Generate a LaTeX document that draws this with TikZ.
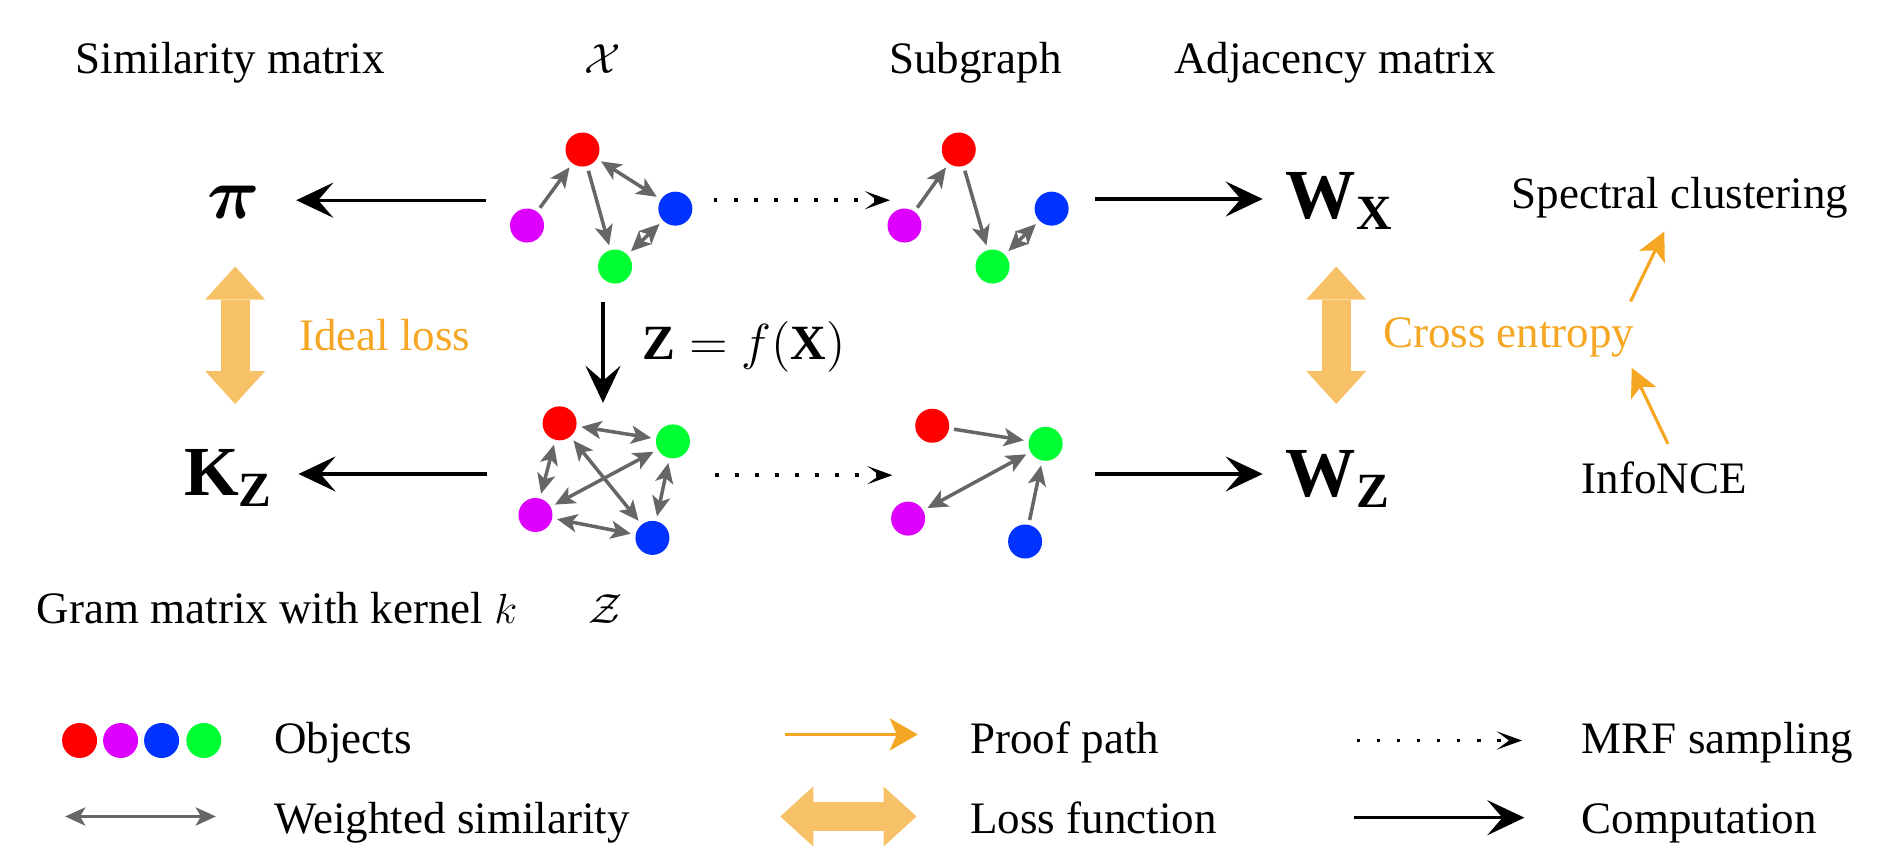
\documentclass[tikz,border=0pt]{standalone}
\usepackage{amsmath}
\usepackage{fontspec}
\setmainfont{Liberation Serif}
\usetikzlibrary{arrows.meta}
\definecolor{nred}{RGB}{255,0,0}
\definecolor{nmag}{RGB}{221,0,255}
\definecolor{nblue}{RGB}{0,51,255}
\definecolor{ngreen}{RGB}{0,255,51}
\definecolor{egray}{RGB}{102,102,102}
\definecolor{porange}{RGB}{245,166,35}
\definecolor{lorange}{RGB}{247,193,104}
\begin{document}
\begin{tikzpicture}[x=0.01206cm, y=-0.01206cm,
  font=\fontsize{12.8}{15}\selectfont,
  obj/.style={circle, inner sep=0pt, minimum size=3.4mm, outer sep=0.5mm},
  txt/.style={inner sep=0pt, anchor=base},
  txtw/.style={inner sep=0pt, anchor=base west},
  big/.style={inner sep=0pt, font=\fontsize{20}{24}\selectfont},
  gedge/.style={draw=egray, line width=1pt, -{Stealth[length=2mm,width=1.8mm,inset=0.5mm]}},
  gboth/.style={draw=egray, line width=1pt, {Stealth[length=2mm,width=1.8mm,inset=0.5mm]}-{Stealth[length=2mm,width=1.8mm,inset=0.5mm]}},
  comp/.style={draw=black, line width=0.95pt, -{Stealth[length=3.7mm,width=3.5mm,inset=1.5mm]}},
  mrf/.style={draw=black, line width=1.1pt, dash pattern=on 1pt off 4.7pt, -{Stealth[length=2.5mm,width=1.8mm,inset=1.2mm]}},
  proof/.style={draw=porange, line width=0.9pt, -{Stealth[length=2.8mm,width=2.8mm,inset=0.7mm]}},
  loss/.style={draw=lorange, line width=2.9mm, {Triangle[length=3.3mm,width=6mm,line width=0pt]}-{Triangle[length=3.3mm,width=6mm,line width=0pt]}}
]
\useasboundingbox (0,0) rectangle (1568,708);

% top labels
\node[txt] (simlab) at (191,61) {Similarity matrix};
\node[txt] (xlab) at (500,61) {$\mathcal{X}$};
\node[txt] (sublab) at (809,61) {Subgraph};
\node[txt] (adjlab) at (1107,61) {Adjacency matrix};

% graph X
\node[obj, fill=nred] (xr) at (483,124) {};
\node[obj, fill=nmag] (xm) at (437,187) {};
\node[obj, fill=nblue] (xb) at (560,173) {};
\node[obj, fill=ngreen] (xg) at (510,221) {};
\draw[gedge] (xm) -- (xr);
\draw[gedge] (xr) -- (xg);
\draw[gboth] (xr) -- (xb);
\draw[gboth] (xg) -- (xb);

% graph Z
\node[obj, fill=nred] (zr) at (464,351) {};
\node[obj, fill=ngreen] (zg) at (558,366) {};
\node[obj, fill=nmag] (zm) at (444,427) {};
\node[obj, fill=nblue] (zb) at (541,446) {};
\draw[gboth] (zr) -- (zg);
\draw[gboth] (zr) -- (zm);
\draw[gboth] (zr) -- (zb);
\draw[gboth] (zg) -- (zm);
\draw[gboth] (zg) -- (zb);
\draw[gboth] (zm) -- (zb);

% subgraph X
\node[obj, fill=nred] (sxr) at (795,124) {};
\node[obj, fill=nmag] (sxm) at (750,187) {};
\node[obj, fill=nblue] (sxb) at (872,173) {};
\node[obj, fill=ngreen] (sxg) at (823,221) {};
\draw[gedge] (sxm) -- (sxr);
\draw[gedge] (sxr) -- (sxg);
\draw[gboth] (sxg) -- (sxb);

% subgraph Z
\node[obj, fill=nred] (szr) at (773,353) {};
\node[obj, fill=ngreen] (szg) at (867,368) {};
\node[obj, fill=nmag] (szm) at (753,430) {};
\node[obj, fill=nblue] (szb) at (850,449) {};
\draw[gedge] (szr) -- (szg);
\draw[gboth] (szm) -- (szg);
\draw[gedge] (szb) -- (szg);

% matrices
\node[inner sep=0pt, outer sep=3.6mm, font=\fontsize{22}{26}\selectfont] (pi) at (194,168) {$\boldsymbol{\pi}$};
\node[big, anchor=base west, outer sep=2.5mm] (kz) at (132,411) {$\mathbf{K}_{\mathbf{Z}}$};
\node[big, anchor=base west, outer sep=2.3mm] (wx) at (1047,181) {$\mathbf{W}_{\mathbf{X}}$};
\node[big, anchor=base west, outer sep=2.3mm] (wz) at (1047,412) {$\mathbf{W}_{\mathbf{Z}}$};

% computation arrows
\coordinate (xL) at (403,166);
\coordinate (zL) at (404,393);
\coordinate (sxR) at (908,165);
\coordinate (szR) at (908,393);
\draw[comp] (xL) -- (xL -| pi.east);
\draw[comp] (zL) -- (zL -| kz.east);
\draw[comp] (sxR) -- (sxR -| wx.west);
\draw[comp] (szR) -- (szR -| wz.west);
\coordinate (dT) at (500,250);
\coordinate (dB) at (500,334);
\draw[comp] (dT) -- (dB);
\node[txtw, font=\fontsize{14}{17}\selectfont] (fx) at (532,298) {$\mathbf{Z}=f(\mathbf{X})$};

% MRF sampling
\coordinate (mx1) at (592,166);
\coordinate (mx2) at (738,166);
\coordinate (mz1) at (593,394);
\coordinate (mz2) at (740,394);
\draw[mrf] (mx1) -- (mx2);
\draw[mrf] (mz1) -- (mz2);

% losses
\coordinate (lt) at (195,221);
\coordinate (lb) at (195,335);
\coordinate (rt) at (1108,221);
\coordinate (rb) at (1108,335);
\draw[loss] (lt) -- (lb);
\draw[loss] (rt) -- (rb);
\node[txt, text=porange] (ideal) at (319,291) {Ideal loss};
\node[txt, text=porange] (ce) at (1251,288) {Cross entropy};

% proof paths
\node[txt] (spec) at (1393,173) {Spectral clustering};
\node[txt] (info) at (1380,409) {InfoNCE};
\coordinate (p1a) at (1352,250);
\coordinate (p1b) at (1380,192);
\coordinate (p2a) at (1383,368);
\coordinate (p2b) at (1353,305);
\draw[proof] (p1a) -- (p1b);
\draw[proof] (p2a) -- (p2b);

% bottom labels
\node[txtw] (gram) at (30,517) {Gram matrix with kernel $k$};
\node[txt] (zlab) at (502,517) {$\mathcal{Z}$};

% legend
\node[obj, fill=nred, outer sep=0pt, minimum size=3.5mm] (l1) at (66,614) {};
\node[obj, fill=nmag, outer sep=0pt, minimum size=3.5mm] (l2) at (100,614) {};
\node[obj, fill=nblue, outer sep=0pt, minimum size=3.5mm] (l3) at (134,614) {};
\node[obj, fill=ngreen, outer sep=0pt, minimum size=3.5mm] (l4) at (169,614) {};
\node[txtw] (lobj) at (227,625) {Objects};

\coordinate (w1) at (54,677);
\coordinate (w2) at (179,677);
\draw[draw=egray, line width=1.1pt, {Stealth[length=2mm,width=1.8mm,inset=0.5mm]}-{Stealth[length=2mm,width=1.8mm,inset=0.5mm]}] (w1) -- (w2);
\node[txtw] (lws) at (227,691) {Weighted similarity};

\coordinate (pp1) at (651,609);
\coordinate (pp2) at (761,609);
\draw[proof, -{Stealth[length=2.8mm,width=3.2mm,inset=0.7mm]}] (pp1) -- (pp2);
\node[txtw] (lpp) at (804,625) {Proof path};

\coordinate (lf1) at (647,677);
\coordinate (lf2) at (760,677);
\draw[loss] (lf1) -- (lf2);
\node[txtw] (llf) at (804,691) {Loss function};

\coordinate (ms1) at (1125,614);
\coordinate (ms2) at (1262,614);
\draw[mrf] (ms1) -- (ms2);
\node[txtw] (lms) at (1311,625) {MRF sampling};

\coordinate (cp1) at (1123,678);
\coordinate (cp2) at (1264,678);
\draw[comp] (cp1) -- (cp2);
\node[txtw] (lcp) at (1311,691) {Computation};
\end{tikzpicture}
\end{document}
